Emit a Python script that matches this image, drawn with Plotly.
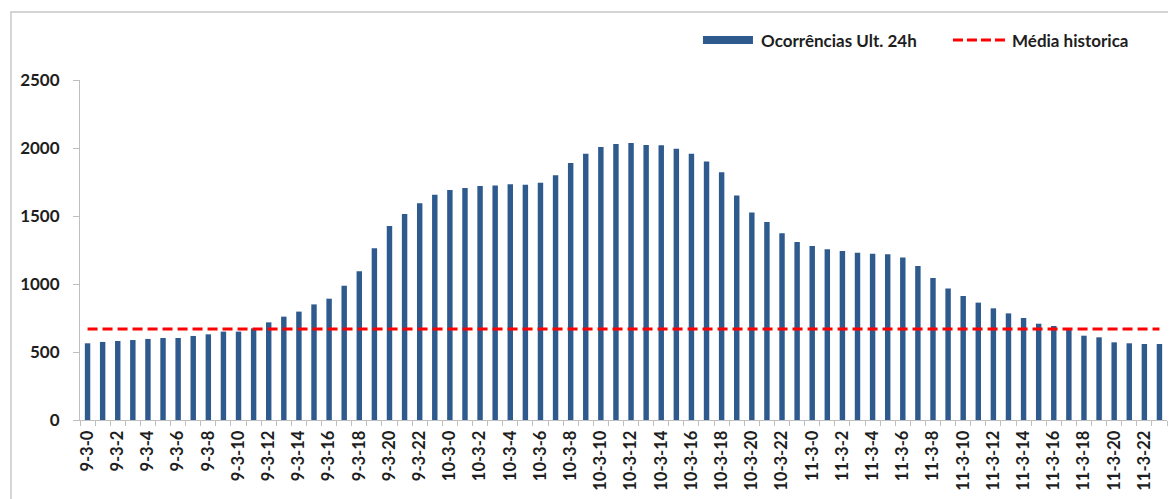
import plotly.graph_objects as go

# ---- data ----
days = [9, 10, 11]
hours = list(range(24))
categories = [f"{d}-3-{h}" for d in days for h in hours]

ocorrencias = [
    564, 574, 581, 588, 596, 603, 603, 618, 630, 650, 650, 674,
    718, 760, 797, 850, 892, 988, 1093, 1262, 1426, 1515, 1593, 1657,
    1691, 1706, 1721, 1725, 1733, 1730, 1745, 1799, 1890, 1958, 2007, 2029,
    2037, 2022, 2020, 1995, 1958, 1900, 1821, 1650, 1525, 1456, 1373, 1309,
    1279, 1255, 1243, 1230, 1223, 1218, 1194, 1132, 1044, 966, 912, 863,
    821, 784, 750, 708, 691, 672, 620, 608, 571, 564, 559, 559,
]
media_historica = 670

series_bar_name = "Ocorrências Ult. 24h"
series_line_name = "Média historica"
tick_text = [c if i % 2 == 0 else "" for i, c in enumerate(categories)]

# ---- styles ----
BAR_COLOR = "#2E5A8E"
LINE_COLOR = "#FF0000"
AXIS_COLOR = "#BFBFBF"
TEXT_COLOR = "#1E1E1E"
FONT = dict(family="Lato, 'Open Sans', sans-serif", size=17, color=TEXT_COLOR, weight="bold")
XFONT = dict(FONT, size=16.5)

fig = go.Figure()
fig.add_trace(go.Bar(
    x=categories, y=ocorrencias, name=series_bar_name,
    marker=dict(color=BAR_COLOR, line=dict(width=0)),
    width=0.36, showlegend=False,
))
fig.add_trace(go.Scatter(
    x=categories, y=[media_historica] * len(categories), name=series_line_name,
    mode="lines", line=dict(color=LINE_COLOR, width=3, dash="10px,5px"),
    showlegend=False,
))

# page body has an 8px margin, so the figure is sized/offset to compensate
fig.update_layout(
    width=1168, height=491,
    margin=dict(l=72, r=9, t=72, b=79, autoexpand=False),
    paper_bgcolor="white", plot_bgcolor="white",
    font=FONT,
    bargap=0.6,
)
fig.update_xaxes(
    type="category", automargin=False,
    tickmode="array", tickvals=categories, ticktext=tick_text,
    tickangle=-90, tickson="boundaries",
    ticks="outside", ticklen=5, tickcolor=AXIS_COLOR,
    showline=True, linecolor=AXIS_COLOR, linewidth=1,
    showgrid=False, zeroline=False,
    range=[-0.5, len(categories) - 0.5],
    tickfont=XFONT, ticklabelstandoff=3,
)
fig.update_yaxes(
    range=[0, 2500], dtick=500, tick0=0, automargin=False,
    ticks="outside", ticklen=6, tickcolor=AXIS_COLOR,
    showline=True, linecolor=AXIS_COLOR, linewidth=1,
    showgrid=False, zeroline=False,
    tickfont=FONT, ticklabelstandoff=10,
)

# outer chart border (top and left visible, rest off-canvas)
fig.add_shape(type="rect", xref="paper", yref="paper",
              x0=-0.0635, x1=1.2, y0=-0.5, y1=1.2,
              line=dict(color="#C8C8C8", width=1.5), fillcolor="rgba(0,0,0,0)", layer="below")

# custom legend
fig.add_shape(type="rect", xref="paper", yref="paper",
              x0=0.5731, x1=0.6191, y0=1.1059, y1=1.1294,
              line=dict(width=0), fillcolor=BAR_COLOR)
fig.add_annotation(xref="paper", yref="paper", x=0.6247, y=1.1176,
                   text=series_bar_name, showarrow=False, xanchor="left", yanchor="middle", font=FONT)
fig.add_shape(type="line", xref="paper", yref="paper",
              x0=0.8031, x1=0.8510, y0=1.1176, y1=1.1176,
              line=dict(color=LINE_COLOR, width=3, dash="10px,4px"))
fig.add_annotation(xref="paper", yref="paper", x=0.8556, y=1.1176,
                   text=series_line_name, showarrow=False, xanchor="left", yanchor="middle", font=FONT)

fig.write_html("out.html")
